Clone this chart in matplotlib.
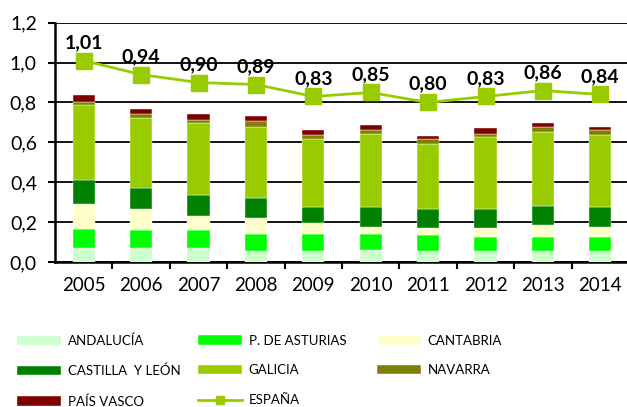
import numpy as np
import matplotlib
matplotlib.use('Agg')
from matplotlib import pyplot as plt

plt.rcParams['font.family'] = ['Lato', 'DejaVu Sans']

years = ['2005', '2006', '2007', '2008', '2009',
         '2010', '2011', '2012', '2013', '2014']

# contribution of each region (stacked)
andalucia = [0.071, 0.071, 0.071, 0.054, 0.054, 0.062, 0.054, 0.054, 0.054, 0.054]
asturias = [0.096, 0.088, 0.088, 0.088, 0.088, 0.080, 0.080, 0.070, 0.070, 0.070]
cantabria = [0.124, 0.107, 0.072, 0.079, 0.052, 0.036, 0.037, 0.047, 0.063, 0.054]
castilla_leon = [0.121, 0.103, 0.103, 0.098, 0.080, 0.096, 0.093, 0.093, 0.095, 0.096]
galicia = [0.374, 0.353, 0.363, 0.360, 0.345, 0.370, 0.327, 0.363, 0.372, 0.364]
navarra = [0.016, 0.020, 0.015, 0.027, 0.017, 0.018, 0.026, 0.017, 0.025, 0.023]
pais_vasco = [0.035, 0.024, 0.029, 0.025, 0.025, 0.025, 0.017, 0.027, 0.017, 0.018]

espana = [1.01, 0.94, 0.90, 0.89, 0.83, 0.85, 0.80, 0.83, 0.86, 0.84]

series = [
    ('ANDALUCÍA', andalucia, '#CCFFCC'),
    ('P. DE ASTURIAS', asturias, '#00FF00'),
    ('CANTABRIA', cantabria, '#FFFFCC'),
    ('CASTILLA  Y LEÓN', castilla_leon, '#008000'),
    ('GALICIA', galicia, '#99CC00'),
    ('NAVARRA', navarra, '#808000'),
    ('PAÍS VASCO', pais_vasco, '#800000'),
]

fig = plt.figure(figsize=(6.27, 4.07), dpi=100)
ax = fig.add_axes([55 / 627, 145 / 407, 574 / 627, 239.3 / 407])

x = np.arange(len(years))
bottom = np.zeros(len(years))
handles = {}
for name, values, color in series:
    values = np.array(values)
    h = ax.bar(x, values, width=0.39, bottom=bottom, color=color,
               edgecolor='white', linewidth=0.3, label=name, zorder=3)
    handles[name] = h
    bottom += values

line, = ax.plot(x, espana, color='#99CC00', linewidth=2, marker='s',
                markersize=11.5, label='ESPAÑA', zorder=4)
handles['ESPAÑA'] = line

for xi, v in zip(x, espana):
    ax.annotate(f'{v:.2f}'.replace('.', ','), (xi, v), xytext=(0, 7),
                textcoords='offset points', ha='center', va='bottom',
                fontsize=14, fontweight='bold', color='black')

ax.set_xlim(-0.5, len(years) - 0.5)
ax.set_ylim(0, 1.2)
ax.set_yticks(np.arange(0, 1.21, 0.2))
ax.set_yticklabels([f'{t:.1f}'.replace('.', ',') for t in np.arange(0, 1.21, 0.2)])
ax.set_xticks(x)
ax.set_xticklabels(years)
ax.set_xticks(x[:-1] + 0.5, minor=True)
ax.tick_params(axis='x', which='major', length=0, labelsize=13.5, pad=11)
ax.tick_params(axis='x', which='minor', length=5, width=1.5, direction='out')
ax.tick_params(axis='y', length=5, width=1.5, labelsize=14, pad=8)

ax.grid(axis='y', color='black', linewidth=1.3, zorder=0)
for side in ['top', 'right']:
    ax.spines[side].set_visible(False)
ax.spines['left'].set_linewidth(1.8)
ax.spines['bottom'].set_linewidth(1.8)

# legend: three columns placed by hand
columns = [
    (17, ['ANDALUCÍA', 'CASTILLA  Y LEÓN', 'PAÍS VASCO']),
    (198, ['P. DE ASTURIAS', 'GALICIA', 'ESPAÑA']),
    (377, ['CANTABRIA', 'NAVARRA']),
]
for xpix, names in columns:
    leg = fig.legend([handles[n] for n in names], names, loc='upper left',
                     bbox_to_anchor=(xpix / 627, 0.178), frameon=False,
                     fontsize=9.5, handlelength=3.3, handleheight=0.7,
                     labelspacing=1.35, handletextpad=0.55,
                     borderpad=0, borderaxespad=0, markerscale=0.55)

fig.savefig('out.png', dpi=100)
